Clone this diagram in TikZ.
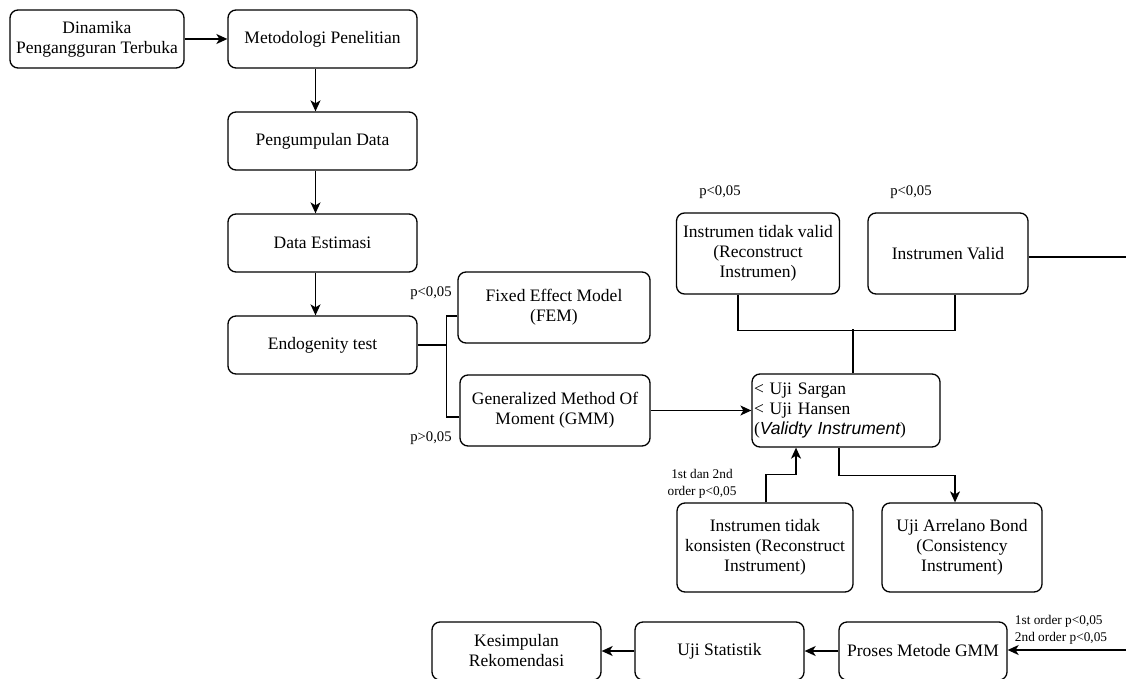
\documentclass[tikz,border=0pt]{standalone}
\usepackage{fontspec}
\setmainfont{Liberation Serif}
\setsansfont{Liberation Sans}
\usetikzlibrary{arrows.meta}
\tikzset{
  box/.style={draw, rounded corners=8pt, line width=1.3pt, align=center, inner sep=2pt,
    font=\fontsize{17.5}{20}\selectfont},
  conn/.style={line width=1.3pt},
  arr/.style={conn, -{Stealth[length=11pt,width=10pt,inset=3pt]}},
  lbl/.style={font=\fontsize{14.7}{17}\selectfont, inner sep=0pt},
  slbl/.style={font=\fontsize{13.3}{17}\selectfont, inner sep=0pt},
}
\begin{document}
\begin{tikzpicture}[x=1pt,y=-1pt]
\useasboundingbox (0,0) rectangle (1126,679);
\clip (0,0) rectangle (1126,679);
% nodes
\node[box, minimum width=174, minimum height=58] (dyn) at (97,39) {Dinamika\\Pengangguran Terbuka};
\node[box, minimum width=189, minimum height=58] (met) at (322.5,39) {Metodologi Penelitian};
\node[box, minimum width=189, minimum height=58] (pen) at (322.5,141) {Pengumpulan Data};
\node[box, minimum width=189, minimum height=58] (est) at (322.5,243) {Data Estimasi};
\node[box, minimum width=189, minimum height=58] (endo) at (322.5,345) {Endogenity test};
\node[box, minimum width=192, minimum height=71] (fem) at (554,307.5) {Fixed Effect Model\\(FEM)};
\node[box, minimum width=190, minimum height=71] (gmm) at (555,410.5) {Generalized Method Of\\Moment (GMM)};
\node[box, minimum width=163, minimum height=81] (itv) at (758,253.5) {Instrumen tidak valid\\(Reconstruct\\Instrumen)};
\node[box, minimum width=160, minimum height=81] (iv) at (948,253.5) {Instrumen Valid};
\node[box, align=left, text width=184, inner xsep=2pt, minimum height=73] (val) at (846,410.5)
  {< Uji Sargan\\< Uji Hansen\\({\sffamily\itshape Validty Instrument})};
\node[box, minimum width=176, minimum height=89] (itk) at (765,547.5) {Instrumen tidak\\konsisten (Reconstruct\\Instrument)};
\node[box, minimum width=160, minimum height=89] (arb) at (962,547.5) {Uji Arrelano Bond\\(Consistency\\Instrument)};
\node[box, minimum width=168, minimum height=58] (pro) at (923,651) {Proses Metode GMM};
\node[box, minimum width=169, minimum height=58] (uji) at (719.5,651) {Uji Statistik};
\node[box, minimum width=169, minimum height=58] (kes) at (516.5,651) {Kesimpulan\\Rekomendasi};
% labels
\node[lbl] (l1) at (431,293) {p<0,05};
\node[lbl] (l2) at (431,438) {p>0,05};
\node[lbl] (l3) at (720,192) {p<0,05};
\node[lbl] (l4) at (911,192) {p<0,05};
\node[slbl, align=center] (l5) at (702,484) {1st dan 2nd\\order p<0,05};
\node[slbl, align=left] (l6) at (1061,630) {1st order p<0,05\\2nd order p<0,05};
% free ends
\coordinate (rightA) at (1126,257);
\coordinate (rightB) at (1126,650);
% connectors
\draw[arr] (dyn.east) -- (met.west);
\draw[arr] ([xshift=-7]met.south) -- ([xshift=-7]pen.north);
\draw[arr] ([xshift=-7]pen.south) -- ([xshift=-7]est.north);
\draw[arr] ([xshift=-7]est.south) -- ([xshift=-7]endo.north);
\draw[conn] (endo.east) -- ++(29,0) coordinate (j1);
\draw[conn] ([yshift=-8.5]fem.west) -| (j1);
\draw[conn] ([yshift=-6.5]gmm.west) -| (j1);
\draw[arr] (gmm.east) -- (val.west);
\draw[conn] ([xshift=-20]itv.south) -- ++(0,36) -| ([xshift=7]iv.south);
\draw[conn] ([xshift=7]val.north) -- ++(0,-44);
\draw[conn] (iv.east |- rightA) -- (rightA);
\draw[arr] ([xshift=-7]val.south) -- ++(0,28) -| ([xshift=-7]arb.north);
\draw[arr] ([xshift=1]itk.north) -- ++(0,-28) -| ([xshift=-50]val.south);
\draw[arr] (rightB) -- (pro.east |- rightB);
\draw[arr] (pro.west) -- (uji.east);
\draw[arr] (uji.west) -- (kes.east);
\end{tikzpicture}
\end{document}
